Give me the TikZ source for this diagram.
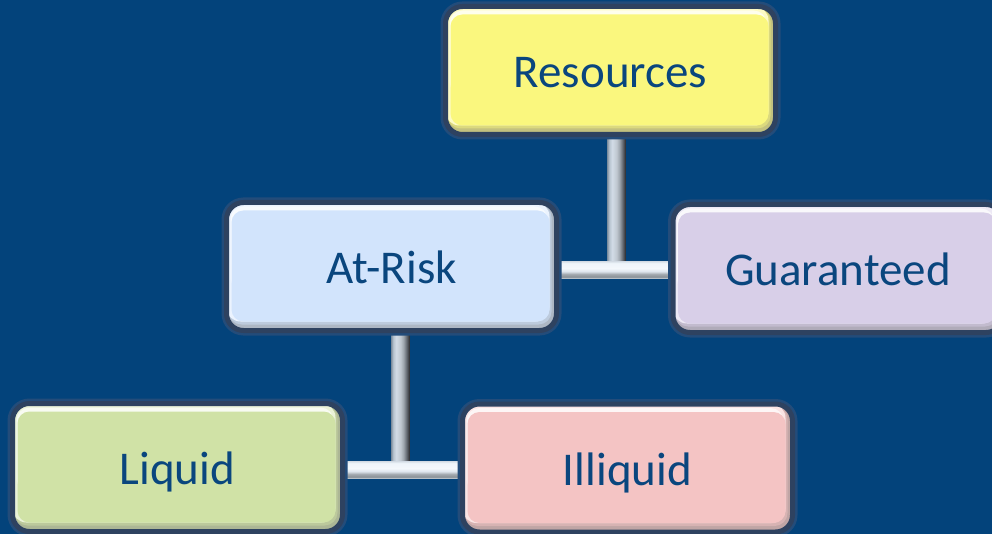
\documentclass[tikz,border=0pt]{standalone}
\usepackage{fontspec}
\setmainfont{Carlito}
\usetikzlibrary{calc}

\definecolor{bgblue}{HTML}{03437B}
\definecolor{txtblue}{HTML}{0A467E}
\definecolor{rimcol}{HTML}{2E4260}
\definecolor{glowcol}{HTML}{234C7A}
\definecolor{resfill}{HTML}{FAF77E}
\definecolor{riskfill}{HTML}{D2E4FC}
\definecolor{guarfill}{HTML}{D8CFE8}
\definecolor{liqfill}{HTML}{D0E2A6}
\definecolor{illfill}{HTML}{F4C4C4}

% metallic bar colours
\definecolor{va}{HTML}{8898A8}
\definecolor{vb}{HTML}{B8C4D0}
\definecolor{vc}{HTML}{D2DCE6}
\definecolor{vd}{HTML}{C0C8D0}
\definecolor{ve}{HTML}{A0A8B0}
\definecolor{vf}{HTML}{6A7078}
\definecolor{vg}{HTML}{2C2C30}
\definecolor{ha}{HTML}{C8D0D8}
\definecolor{hb}{HTML}{8A9298}
\definecolor{hc}{HTML}{A4AAB0}
\definecolor{hd}{HTML}{DFE6EE}
\definecolor{he}{HTML}{F4F8FC}
\definecolor{hf}{HTML}{EEF4FA}
\definecolor{hg}{HTML}{D8E0E8}

\pgfdeclarehorizontalshading{vbarshade}{100bp}{%
  color(0bp)=(va); color(25bp)=(va); color(30bp)=(vb); color(38bp)=(vc);
  color(50bp)=(vd); color(58bp)=(ve); color(66bp)=(vf); color(75bp)=(vg);
  color(100bp)=(vg)}
\pgfdeclareverticalshading{hbarshade}{100bp}{%
  color(0bp)=(ha); color(25bp)=(ha); color(30bp)=(hb); color(38bp)=(hc);
  color(46bp)=(hd); color(55bp)=(he); color(70bp)=(hf); color(75bp)=(hg);
  color(100bp)=(hg)}

\pgfdeclarelayer{backdrop}
\pgfdeclarelayer{bars}
\pgfsetlayers{backdrop,bars,main}

\tikzset{
  x=1pt, y=-1pt,
  bevelbox/.style={
    rounded corners=17pt, minimum width=330pt, minimum height=128pt,
    draw=rimcol, line width=5pt, text=txtblue,
    preaction={draw=glowcol, line width=10pt},
    font=\fontsize{47}{50}\selectfont, inner sep=0pt,
    text height=34pt, text depth=0pt,
    path picture={
      \fill[#1!55!gray] (path picture bounding box.south west)
        rectangle (path picture bounding box.north east);
      \fill[#1!75!gray, rounded corners=13pt]
        ($(path picture bounding box.south west)+(2pt,6pt)$)
        rectangle ($(path picture bounding box.north east)+(-5pt,-2pt)$);
      \fill[#1!45!white, rounded corners=14pt]
        ($(path picture bounding box.south west)+(0pt,9pt)$)
        rectangle ($(path picture bounding box.north east)+(-7pt,0pt)$);
      \fill[white!85!#1, rounded corners=13pt]
        ($(path picture bounding box.south west)+(4pt,40pt)$)
        rectangle ($(path picture bounding box.north east)+(-9pt,-4pt)$);
      \fill[#1, rounded corners=12pt]
        ($(path picture bounding box.south west)+(5pt,9pt)$)
        rectangle ($(path picture bounding box.north east)+(-7pt,-8pt)$);
    }},
  vbar/.style={shading=vbarshade},
  hbar/.style={shading=hbarshade}
}

\begin{document}
\begin{tikzpicture}
\useasboundingbox (0,0) rectangle (992,534);
\clip (0,0) rectangle (992,534);
\begin{pgfonlayer}{backdrop}
  \fill[bgblue] (0,0) rectangle (992,534);
\end{pgfonlayer}

% boxes
\node[bevelbox=resfill]  (res)  at (610.5,70.5)  {Resources};
\node[bevelbox=riskfill] (risk) at (391.5,266.5) {At-Risk};
\node[bevelbox=guarfill] (guar) at (838,268.5)   {Guaranteed};
\node[bevelbox=liqfill]  (liq)  at (177.5,467.5) {Liquid};
\node[bevelbox=illfill]  (ill)  at (627.5,468)   {Illiquid};

% junction points of the bars
\coordinate (j1) at (616.5,270);
\coordinate (j2) at (400.5,470);

% metallic connectors, behind the boxes
\begin{pgfonlayer}{bars}
  \shade[vbar] ($(j1 |- res.south)+(-9pt,0pt)$) rectangle ($(j1)+(9pt,0pt)$);
  \shade[hbar] ($(risk.east |- j1)+(0pt,-8.5pt)$) rectangle ($(guar.west |- j1)+(0pt,8.5pt)$);
  \shade[vbar] ($(j2 |- risk.south)+(-9pt,0pt)$) rectangle ($(j2)+(9pt,0pt)$);
  \shade[hbar] ($(liq.east |- j2)+(0pt,-8.5pt)$) rectangle ($(ill.west |- j2)+(0pt,8.5pt)$);
\end{pgfonlayer}
\end{tikzpicture}
\end{document}
